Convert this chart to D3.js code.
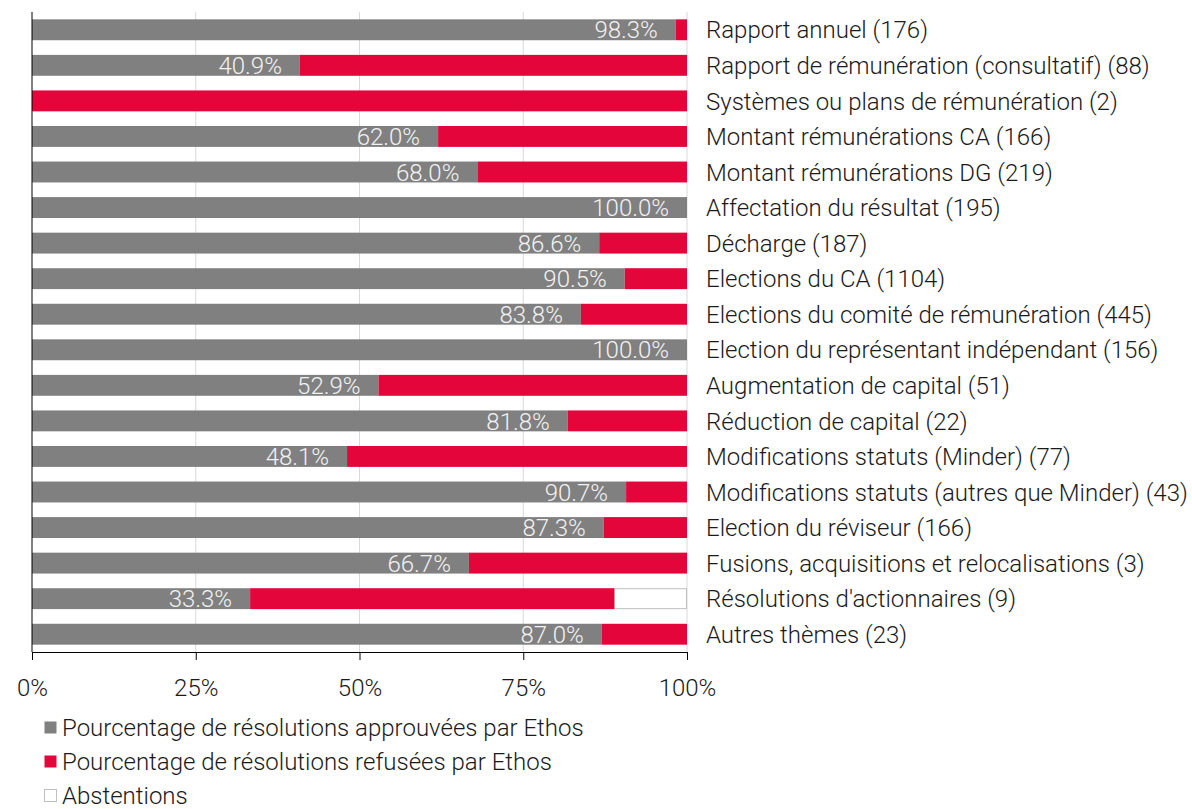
<!DOCTYPE html>
<html>
<head>
<meta charset="utf-8">
<script src="https://cdn.jsdelivr.net/npm/d3@7"></script>
<style>
  body { margin: 0; background: #fff; }
  svg { display: block; font-family: Roboto, 'Liberation Sans', sans-serif; font-weight: 300; }
</style>
</head>
<body>
<svg width="1192" height="809"></svg>
<script>
const categories = [
  'Rapport annuel (176)',
  'Rapport de rémunération (consultatif) (88)',
  'Systèmes ou plans de rémunération (2)',
  'Montant rémunérations CA (166)',
  'Montant rémunérations DG (219)',
  'Affectation du résultat (195)',
  'Décharge (187)',
  'Elections du CA (1104)',
  'Elections du comité de rémunération (445)',
  'Election du représentant indépendant (156)',
  'Augmentation de capital (51)',
  'Réduction de capital (22)',
  'Modifications statuts (Minder) (77)',
  'Modifications statuts (autres que Minder) (43)',
  'Election du réviseur (166)',
  'Fusions, acquisitions et relocalisations (3)',
  "Résolutions d'actionnaires (9)",
  'Autres thèmes (23)'
];
const approved = [98.3, 40.9, 0, 62.0, 68.0, 100, 86.6, 90.5, 83.8, 100, 52.9, 81.8, 48.1, 90.7, 87.3, 66.7, 33.3, 87.0];
const refused = [1.7, 59.1, 100, 38.0, 32.0, 0, 13.4, 9.5, 16.2, 0, 47.1, 18.2, 51.9, 9.3, 12.7, 33.3, 55.6, 13.0];
const abstentions = [0, 0, 0, 0, 0, 0, 0, 0, 0, 0, 0, 0, 0, 0, 0, 0, 11.1, 0];
const xTicks = [0, 25, 50, 75, 100];
const seriesNames = [
  'Pourcentage de résolutions approuvées par Ethos',
  'Pourcentage de résolutions refusées par Ethos',
  'Abstentions'
];

const grey = '#808080';
const red = '#e4053a';
const fontSize = '24px';

const svg = d3.select('svg');
const margin = { top: 12, left: 32 };
const plotW = 655;
const plotH = 640;

const x = d3.scaleLinear().domain([0, 100]).range([margin.left, margin.left + plotW]);
const y = d3.scaleBand().domain(categories).range([margin.top, margin.top + plotH]).paddingInner(0.412).paddingOuter(0.206);

const rows = categories.map((c, i) => ({
  cat: c,
  a: approved[i],
  r: refused[i],
  ab: abstentions[i]
}));

// gridlines
svg.append('g')
  .selectAll('line')
  .data(xTicks.slice(1))
  .enter()
  .append('line')
  .attr('x1', d => x(d)).attr('x2', d => x(d))
  .attr('y1', margin.top).attr('y2', margin.top + plotH)
  .attr('stroke', '#d9d9d9')
  .attr('stroke-width', 1);

const bars = svg.append('g');

bars.selectAll('.ab')
  .data(rows.filter(d => d.ab > 0))
  .enter().append('rect')
  .attr('x', d => x(d.a + d.r))
  .attr('y', d => y(d.cat) + 0.5)
  .attr('width', d => x(d.a + d.r + d.ab) - x(d.a + d.r) - 0.5)
  .attr('height', y.bandwidth() - 1)
  .attr('fill', '#fff')
  .attr('stroke', '#bfbfbf');

bars.selectAll('.a')
  .data(rows)
  .enter().append('rect')
  .attr('x', x(0))
  .attr('y', d => y(d.cat))
  .attr('width', d => x(d.a) - x(0))
  .attr('height', y.bandwidth())
  .attr('fill', grey);

bars.selectAll('.r')
  .data(rows)
  .enter().append('rect')
  .attr('x', d => x(d.a))
  .attr('y', d => y(d.cat))
  .attr('width', d => x(d.a + d.r) - x(d.a))
  .attr('height', y.bandwidth())
  .attr('fill', red);

// value labels
bars.selectAll('.lbl')
  .data(rows.filter(d => d.a > 0))
  .enter().append('text')
  .attr('x', d => x(d.a) - 18)
  .attr('y', d => y(d.cat) + y.bandwidth() / 2)
  .attr('dy', '0.36em')
  .attr('text-anchor', 'end')
  .attr('fill', '#f2f2f2')
  .style('font-size', fontSize)
  .text(d => d.a.toFixed(1) + '%');

// category labels
svg.append('g')
  .selectAll('text')
  .data(categories)
  .enter().append('text')
  .attr('x', x(100) + 19)
  .attr('y', d => y(d) + y.bandwidth() / 2)
  .attr('dy', '0.36em')
  .attr('fill', '#1a1a1a')
  .style('font-size', fontSize)
  .text(d => d);

// axes
svg.append('line')
  .attr('x1', x(0)).attr('x2', x(0))
  .attr('y1', margin.top).attr('y2', margin.top + plotH)
  .attr('stroke', '#000');

const xAxis = svg.append('g')
  .attr('transform', `translate(0, ${margin.top + plotH})`)
  .call(d3.axisBottom(x).tickValues(xTicks).tickFormat(d => d + '%').tickSize(8).tickPadding(19));
xAxis.select('.domain').attr('stroke', '#000');
xAxis.selectAll('.tick line').attr('stroke', '#000');
xAxis.selectAll('text')
  .attr('fill', '#1a1a1a')
  .style('font-size', fontSize)
  .style('font-family', 'Roboto, sans-serif')
  .style('font-weight', 300);

// legend
const legendColors = [grey, red, '#fff'];
const legend = svg.append('g')
  .selectAll('g')
  .data(seriesNames)
  .enter().append('g')
  .attr('transform', (d, i) => `translate(44, ${727 + i * 34})`);
legend.append('rect')
  .attr('x', 0.5).attr('y', -5.5)
  .attr('width', 12).attr('height', 12)
  .attr('fill', (d, i) => legendColors[i])
  .attr('stroke', (d, i) => i === 2 ? '#bfbfbf' : 'none');
legend.append('text')
  .attr('x', 18)
  .attr('dy', '0.36em')
  .attr('fill', '#1a1a1a')
  .style('font-size', fontSize)
  .text(d => d);
</script>
</body>
</html>
